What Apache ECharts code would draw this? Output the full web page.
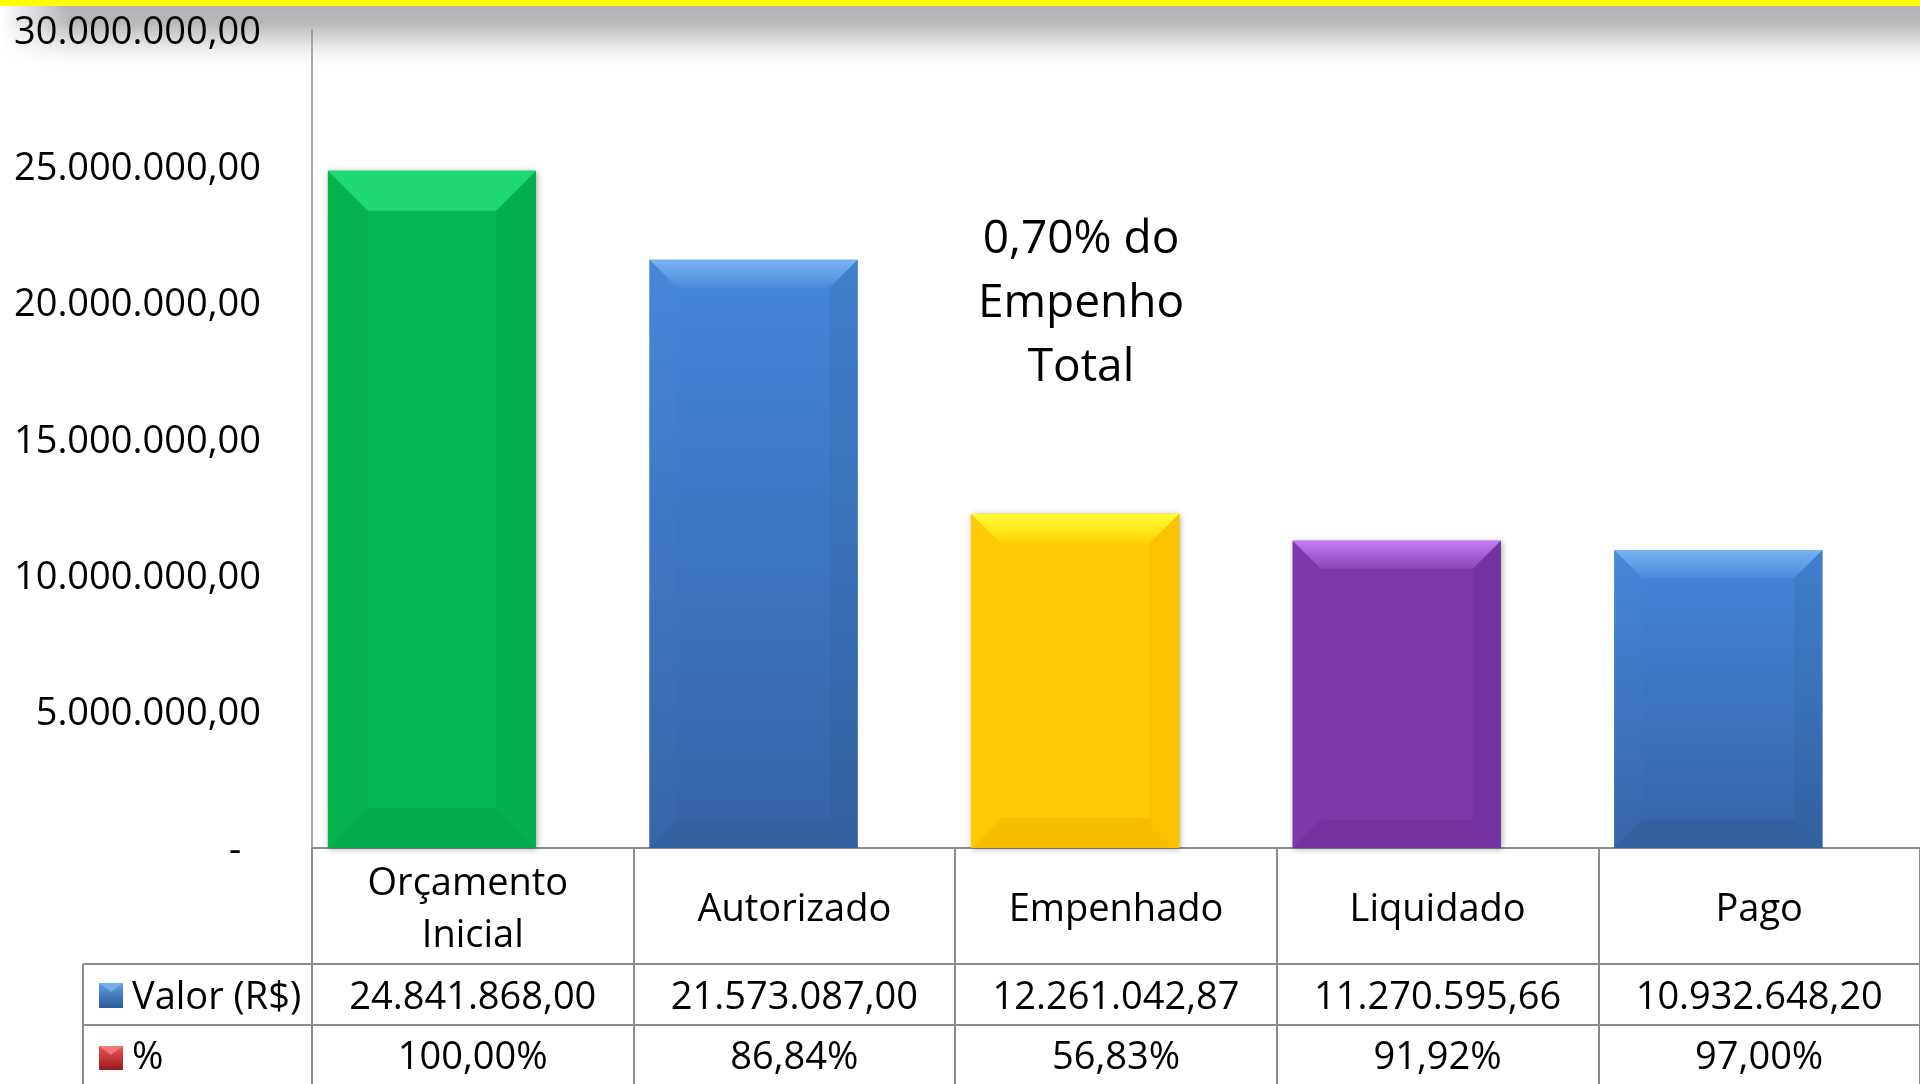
<!DOCTYPE html>
<html>
<head>
<meta charset="utf-8">
<script src="https://cdn.jsdelivr.net/npm/echarts@6/dist/echarts.min.js"></script>
<style>
html,body{margin:0;padding:0;background:#fff;}
#c{width:1920px;height:1084px;}
</style>
</head>
<body>
<div id="c"></div>
<script>
// ---- data ----
var categories = ['Orçamento Inicial', 'Autorizado', 'Empenhado', 'Liquidado', 'Pago'];
var valores = [24841868.00, 21573087.00, 12261042.87, 11270595.66, 10932648.20];
var percentuais = [100.00, 86.84, 56.83, 91.92, 97.00];
var yTicks = [0, 5000000, 10000000, 15000000, 20000000, 25000000, 30000000];
var rowLabels = ['Valor (R$)', '%'];
var annotation = '0,70% do\nEmpenho\nTotal';

// ---- styles ----
var FONT = '"Open Sans", "Noto Sans", sans-serif';
var LINE = '#8c8c8c';
function lg(a, b) { return { type: 'linear', x: 0, y: 0, x2: 0, y2: 1, colorStops: [{ offset: 0, color: a }, { offset: 1, color: b }] }; }
var palettes = [
  { bevel: 40, center: '#07b955', top: '#1fd872', left: '#05b451', right: '#04b050', bottom: '#03ad4e' },
  { bevel: 28, center: lg('#4487da', '#3363a6'), top: lg('#78b4f4', '#4a8ad9'),
    left: lg('#4788da', '#3565a8'), right: lg('#4080cc', '#30609f'), bottom: '#31619f' },
  { bevel: 30, center: '#ffca08', top: lg('#ffff3a', '#ffd200'),
    left: '#ffc906', right: '#fcc200', bottom: '#f8be00' },
  { bevel: 28, center: '#7a38a8', top: lg('#c57cf5', '#8846b9'),
    left: '#7b39a9', right: '#7234a2', bottom: '#74339f' },
  null
];
palettes[4] = palettes[1];

var BAR_W = 0.647;   // bar width as fraction of category
var BAR_OFF = -0.127; // bar center offset (fraction of category)

function fmtBR(v, d) {
  var s = Math.abs(v).toFixed(d).split('.');
  var ip = s[0].replace(/\B(?=(\d{3})+(?!\d))/g, '.');
  return (v < 0 ? '-' : '') + (d > 0 ? ip + ',' + s[1] : ip);
}

var chart = echarts.init(document.getElementById('c'), null, { renderer: 'canvas' });

var option = {
  animation: false,
  backgroundColor: '#ffffff',
  textStyle: { fontFamily: FONT },
  grid: { left: 312, right: 0, top: 30, bottom: 236, containLabel: false },
  xAxis: {
    type: 'category',
    data: categories,
    axisLine: { show: true, lineStyle: { color: LINE, width: 2 } },
    axisTick: { show: true, alignWithLabel: false, interval: 0, length: 240, lineStyle: { color: LINE, width: 2 } },
    axisLabel: {
      interval: 0, margin: 62, verticalAlign: 'middle',
      fontFamily: FONT, fontSize: 38, color: '#000', lineHeight: 52,
      width: 290, overflow: 'break', align: 'center'
    },
    splitLine: { show: false }
  },
  yAxis: {
    type: 'value',
    min: yTicks[0], max: yTicks[yTicks.length - 1], interval: yTicks[1] - yTicks[0],
    axisLine: { show: true, lineStyle: { color: LINE, width: 1.5 } },
    axisTick: { show: false },
    splitLine: { show: false },
    axisLabel: {
      margin: 51, fontFamily: FONT, fontSize: 38, color: '#000',
      formatter: function (v) { return '{a|' + (v === 0 ? '-  ' : fmtBR(v, 2)) + '}'; },
      rich: { a: { fontFamily: FONT, fontSize: 38, color: '#000', padding: [6, 0, 0, 0] } }
    }
  },
  series: [{
    type: 'custom',
    name: rowLabels[0],
    data: valores.map(function (v, i) { return [i, v]; }),
    encode: { x: 0, y: 1 },
    z: 3,
    renderItem: function (params, api) {
      var i = api.value(0), v = api.value(1);
      var top = api.coord([i, v]);
      var base = api.coord([i, 0]);
      var cw = api.size([1, 0])[0];
      var w = cw * BAR_W;
      var cx = top[0] + cw * BAR_OFF;
      var x0 = cx - w / 2, x1 = cx + w / 2, y0 = top[1], y1 = base[1];
      var p = palettes[i];
      var b = Math.min(p.bevel, (y1 - y0) / 2);
      return {
        type: 'group',
        children: [
          { type: 'rect', shape: { x: x0, y: y0, width: w, height: y1 - y0 },
            style: { fill: p.center, shadowBlur: 6, shadowColor: 'rgba(0,0,0,0.35)', shadowOffsetX: 1, shadowOffsetY: 1 } },
          { type: 'polygon', shape: { points: [[x0, y0], [x0 + b, y0 + b], [x0 + b, y1 - b], [x0, y1]] }, style: { fill: p.left } },
          { type: 'polygon', shape: { points: [[x1, y0], [x1, y1], [x1 - b, y1 - b], [x1 - b, y0 + b]] }, style: { fill: p.right } },
          { type: 'polygon', shape: { points: [[x0, y1], [x0 + b, y1 - b], [x1 - b, y1 - b], [x1, y1]] }, style: { fill: p.bottom } },
          { type: 'polygon', shape: { points: [[x0, y0], [x1, y0], [x1 - b, y0 + b], [x0 + b, y0 + b]] }, style: { fill: p.top } }
        ]
      };
    }
  }]
};
chart.setOption(option);

// ---- data table & decorations ----
var gTop = 1084 - 236;         // zero line
var row1 = gTop + 116;          // Valor row top line
var row2 = row1 + 61;           // % row top line
var tableLeft = 83;
var TXT_DY = 3;
var g = [];

// top strip + shadow
g.push({ type: 'rect', z: -10, shape: { x: 0, y: 6, width: 1920, height: 66 },
  style: { fill: { type: 'linear', x: 0, y: 0, x2: 0, y2: 1, colorStops: [
    { offset: 0, color: '#b2b2b2' }, { offset: 0.25, color: '#b8b8b8' }, { offset: 0.6, color: '#e6e6e6' }, { offset: 1, color: 'rgba(255,255,255,0)' }] } } });
g.push({ type: 'rect', z: -9, shape: { x: 0, y: 6, width: 70, height: 66 },
  style: { fill: { type: 'linear', x: 0, y: 0, x2: 1, y2: 0, colorStops: [
    { offset: 0, color: '#ffffff' }, { offset: 1, color: 'rgba(255,255,255,0)' }] } } });
g.push({ type: 'rect', z: -8, shape: { x: 0, y: 0, width: 1920, height: 6 }, style: { fill: '#ffff00' } });

// table lines
[row1, row2].forEach(function (y) {
  g.push({ type: 'line', z: 5, shape: { x1: tableLeft, y1: y, x2: 1920, y2: y }, style: { stroke: LINE, lineWidth: 2 } });
});
g.push({ type: 'line', z: 5, shape: { x1: tableLeft, y1: row1, x2: tableLeft, y2: 1084 }, style: { stroke: LINE, lineWidth: 2 } });

// legend keys
g.push({ type: 'rect', z: 6, shape: { x: 99, y: row1 + 19, width: 24, height: 25 },
  style: { fill: lg('#5e9ee4', '#2c5b99') } });
g.push({ type: 'polygon', z: 7, shape: { points: [[99, row1 + 19], [123, row1 + 19], [111, row1 + 28]] }, style: { fill: 'rgba(140,190,245,0.6)' } });
g.push({ type: 'rect', z: 6, shape: { x: 99, y: row2 + 21, width: 24, height: 24 },
  style: { fill: lg('#ee5252', '#951c1c') } });
g.push({ type: 'polygon', z: 7, shape: { points: [[99, row2 + 21], [123, row2 + 21], [111, row2 + 30]] }, style: { fill: 'rgba(250,150,150,0.6)' } });

// row labels
g.push({ type: 'text', z: 6, style: { text: rowLabels[0], x: 132, y: row1 + 31 + TXT_DY, textVerticalAlign: 'middle', font: '38px ' + FONT, fill: '#000' } });
g.push({ type: 'text', z: 6, style: { text: rowLabels[1], x: 132, y: row2 + 30 + TXT_DY, textVerticalAlign: 'middle', font: '38px ' + FONT, fill: '#000' } });

// row values
categories.forEach(function (c, i) {
  var x = chart.convertToPixel({ xAxisIndex: 0 }, i);
  g.push({ type: 'text', z: 6, style: { text: fmtBR(valores[i], 2), x: x, y: row1 + 31 + TXT_DY, textAlign: 'center', textVerticalAlign: 'middle', font: '38px ' + FONT, fill: '#000' } });
  g.push({ type: 'text', z: 6, style: { text: fmtBR(percentuais[i], 2) + '%', x: x, y: row2 + 30 + TXT_DY, textAlign: 'center', textVerticalAlign: 'middle', font: '38px ' + FONT, fill: '#000' } });
});

// annotation
g.push({ type: 'text', z: 6, style: { text: annotation, x: 1081, y: 304, textAlign: 'center', textVerticalAlign: 'middle', font: '46px ' + FONT, lineHeight: 64, fill: '#000' } });

chart.setOption({ graphic: g });
</script>
</body>
</html>
